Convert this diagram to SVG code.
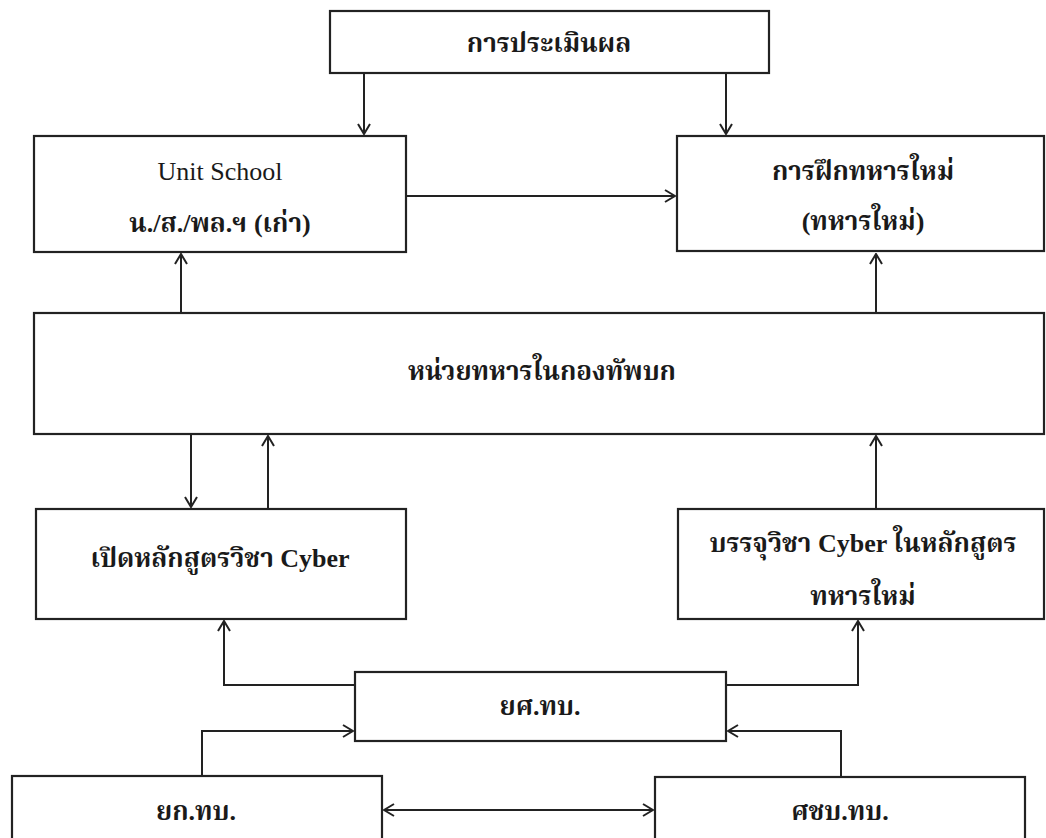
<svg xmlns="http://www.w3.org/2000/svg" width="1046" height="838" viewBox="0 0 1046 838">
<style>
.box{fill:#ffffff;stroke:#222222;stroke-width:2.2}
.t{font-family:"Liberation Serif","Noto Serif Thai","Noto Sans Thai","DejaVu Sans",serif;font-size:26px;fill:#1a1a1a;text-anchor:middle}
.th{font-weight:bold}
.c{fill:none;stroke:#222222;stroke-width:2}
</style>
<defs>
<marker id="ah" viewBox="0 0 12 14" refX="11" refY="7" markerWidth="12" markerHeight="14" markerUnits="userSpaceOnUse" orient="auto-start-reverse">
<path d="M1,1 L11,7 L1,13" fill="none" stroke="#222222" stroke-width="2"/>
</marker>
</defs>
<rect width="1046" height="838" fill="#ffffff"/>
<g id="connectors">
<path class="c" d="M364,73 V134" marker-end="url(#ah)"/>
<path class="c" d="M726,73 V134" marker-end="url(#ah)"/>
<path class="c" d="M406,196 H675" marker-end="url(#ah)"/>
<path class="c" d="M181,313 V254" marker-end="url(#ah)"/>
<path class="c" d="M876,313 V254" marker-end="url(#ah)"/>
<path class="c" d="M191,435 V507" marker-end="url(#ah)"/>
<path class="c" d="M268,509 V436" marker-end="url(#ah)"/>
<path class="c" d="M876,509 V436" marker-end="url(#ah)"/>
<path class="c" d="M355,685 H224 V621" marker-end="url(#ah)"/>
<path class="c" d="M726,685 H858 V621" marker-end="url(#ah)"/>
<path class="c" d="M202,776 V731 H353" marker-end="url(#ah)"/>
<path class="c" d="M841,777 V731 H728" marker-end="url(#ah)"/>
<path class="c" d="M384,810 H653" marker-start="url(#ah)" marker-end="url(#ah)"/>
</g>
<g id="eval">
<rect class="box" x="330" y="11" width="439" height="62"/>
<text class="t th" x="549" y="52">การประเมินผล</text>
</g>
<g id="unit-school">
<rect class="box" x="34" y="136" width="372" height="116"/>
<text class="t" x="220" y="180" font-size="27">Unit School</text>
<text class="t th" x="220" y="232">น./ส./พล.ฯ (เก่า)</text>
</g>
<g id="training">
<rect class="box" x="677" y="136" width="367" height="115"/>
<text class="t th" x="863" y="180">การฝึกทหารใหม่</text>
<text class="t th" x="863" y="230">(ทหารใหม่)</text>
</g>
<g id="army-units">
<rect class="box" x="34" y="313" width="1010" height="121"/>
<text class="t th" x="542" y="380">หน่วยทหารในกองทัพบก</text>
</g>
<g id="open-course">
<rect class="box" x="36" y="509" width="370" height="110"/>
<text class="t th" x="220" y="567">เปิดหลักสูตรวิชา Cyber</text>
</g>
<g id="include-course">
<rect class="box" x="678" y="509" width="366" height="110"/>
<text class="t th" x="863" y="552">บรรจุวิชา Cyber ในหลักสูตร</text>
<text class="t th" x="863" y="605">ทหารใหม่</text>
</g>
<g id="yos">
<rect class="box" x="355" y="672" width="371" height="69"/>
<text class="t th" x="540" y="715">ยศ.ทบ.</text>
</g>
<g id="yok">
<rect class="box" x="12" y="776" width="370" height="80"/>
<text class="t th" x="196" y="820">ยก.ทบ.</text>
</g>
<g id="sorchob">
<rect class="box" x="655" y="777" width="370" height="80"/>
<text class="t th" x="840" y="820">ศชบ.ทบ.</text>
</g>
</svg>
